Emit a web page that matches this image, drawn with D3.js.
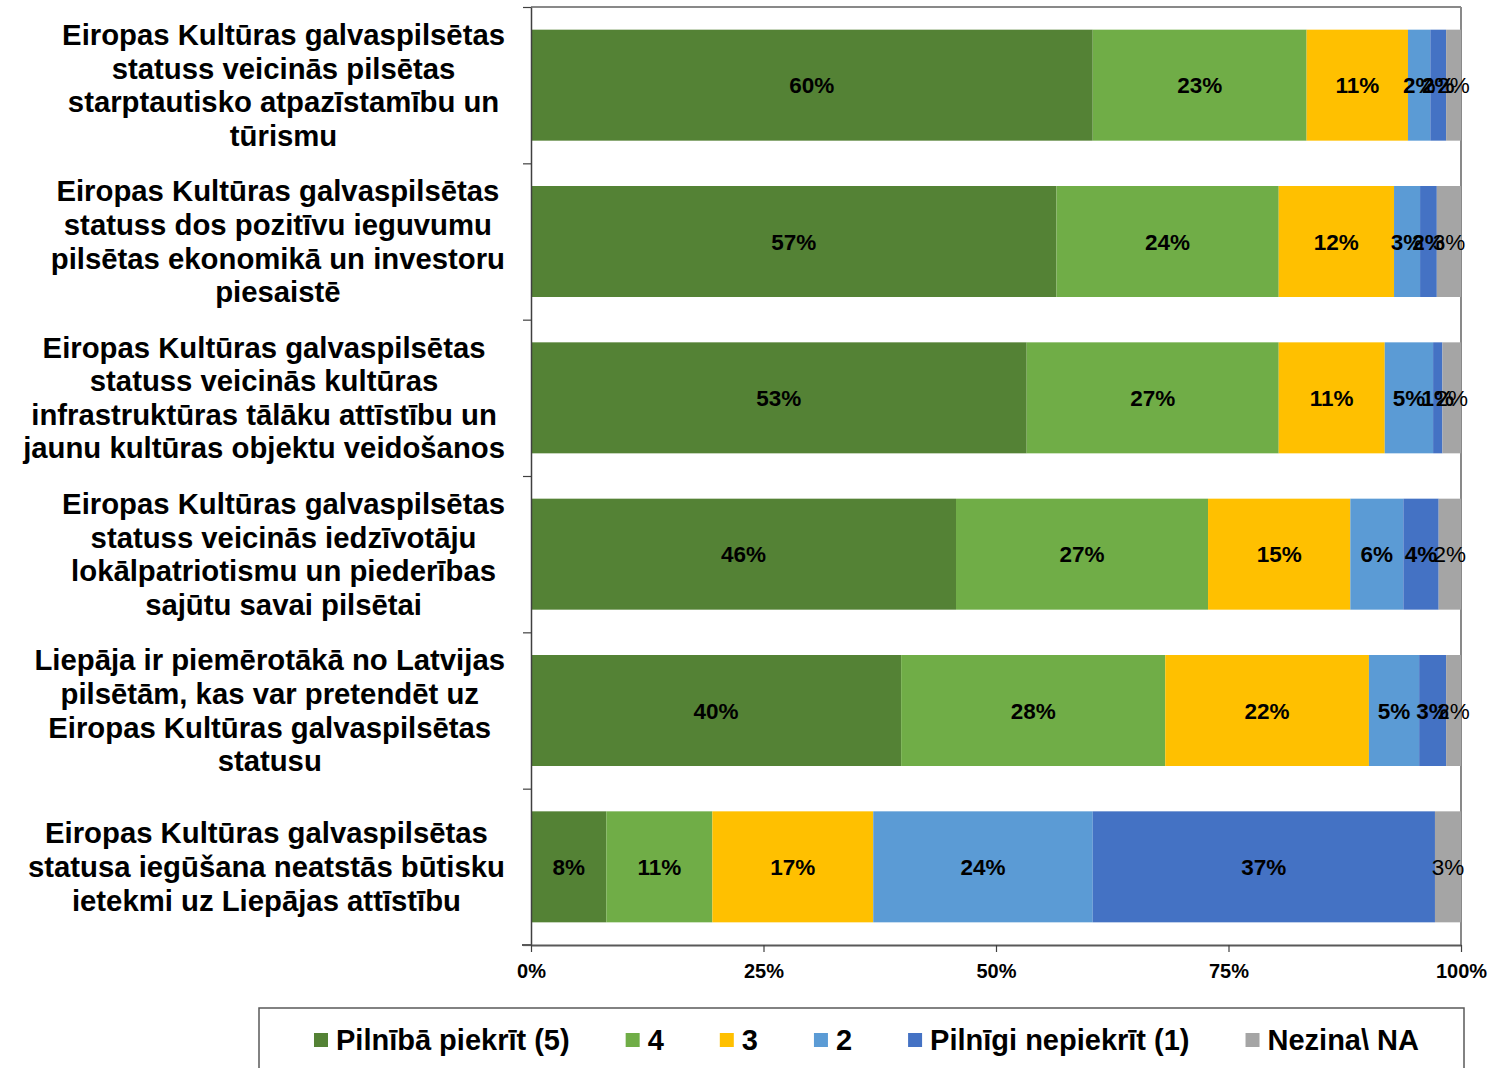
<!DOCTYPE html>
<html>
<head>
<meta charset="utf-8">
<script src="https://cdn.jsdelivr.net/npm/d3@7/dist/d3.min.js"></script>
<style>
  html, body { margin: 0; padding: 0; background: #fff; }
  svg { display: block; font-family: "Liberation Sans", Arial, sans-serif; }
</style>
</head>
<body>
<svg id="chart" width="1495" height="1068"></svg>
<script>
// ---- data ----
const categories = [
  ["Eiropas Kultūras galvaspilsētas", "statuss veicinās pilsētas", "starptautisko atpazīstamību un", "tūrismu"],
  ["Eiropas Kultūras galvaspilsētas", "statuss dos pozitīvu ieguvumu", "pilsētas ekonomikā un investoru", "piesaistē"],
  ["Eiropas Kultūras galvaspilsētas", "statuss veicinās kultūras", "infrastruktūras tālāku attīstību un", "jaunu kultūras objektu veidošanos"],
  ["Eiropas Kultūras galvaspilsētas", "statuss veicinās iedzīvotāju", "lokālpatriotismu un piederības", "sajūtu savai pilsētai"],
  ["Liepāja ir piemērotākā no Latvijas", "pilsētām, kas var pretendēt uz", "Eiropas Kultūras galvaspilsētas", "statusu"],
  ["Eiropas Kultūras galvaspilsētas", "statusa iegūšana neatstās būtisku", "ietekmi uz Liepājas attīstību"]
];
const seriesNames = ["Pilnībā piekrīt (5)", "4", "3", "2", "Pilnīgi nepiekrīt (1)", "Nezina\\ NA"];
const seriesColors = ["#548235", "#70AD47", "#FFC000", "#5B9BD5", "#4472C4", "#A5A5A5"];
const s5 = [60.4, 56.5, 53.3, 45.7, 39.8, 8.1];
const s4 = [23.0, 23.9, 27.1, 27.1, 28.4, 11.4];
const s3 = [10.9, 12.4, 11.4, 15.3, 21.9, 17.3];
const s2 = [2.4, 2.8, 5.2, 5.7, 5.4, 23.6];
const s1 = [1.7, 1.8, 1.0, 3.8, 2.9, 36.8];
const sNA = [1.6, 2.6, 2.0, 2.4, 1.6, 2.8];
const xTicks = [0, 25, 50, 75, 100];

(function () {
// ---- build ----
const seriesValues = [s5, s4, s3, s2, s1, sNA];
const keys = seriesNames.map((_, i) => "k" + i);
const rows = categories.map((c, ci) => {
  const r = { idx: ci };
  keys.forEach((k, si) => r[k] = seriesValues[si][ci]);
  return r;
});
const stacked = d3.stack().keys(keys)(rows);

const svg = d3.select("#chart");
const pLeft = 531, pRight = 1461, pTop = 7, pBottom = 945;

const x = d3.scaleLinear().domain([0, 100]).range([pLeft, pRight]);
const y = d3.scaleBand().domain(d3.range(categories.length)).range([pTop, pBottom])
  .paddingInner(0.29).paddingOuter(0.145);
const yb = d3.scaleLinear().domain([0, categories.length]).range([pTop, pBottom]);
const color = d3.scaleOrdinal().domain(keys).range(seriesColors);

// plot frame (top & right)
svg.append("line").attr("x1", pLeft).attr("x2", pRight).attr("y1", pTop).attr("y2", pTop)
  .attr("stroke", "#898989").attr("stroke-width", 2);
svg.append("line").attr("x1", pRight).attr("x2", pRight).attr("y1", pTop).attr("y2", pBottom)
  .attr("stroke", "#898989").attr("stroke-width", 2);

// bars
const g = svg.append("g");
stacked.forEach((layer) => {
  g.selectAll(null).data(layer).enter().append("rect")
    .attr("x", d => x(d[0]))
    .attr("y", (d, i) => y(i))
    .attr("width", d => x(d[1]) - x(d[0]))
    .attr("height", y.bandwidth())
    .attr("fill", color(layer.key));
});

// labels
stacked.forEach((layer, si) => {
  g.selectAll(null).data(layer).enter().append("text")
    .attr("x", d => (x(d[0]) + x(d[1])) / 2)
    .attr("y", (d, i) => y(i) + y.bandwidth() / 2)
    .attr("dy", "0.36em")
    .attr("text-anchor", "middle")
    .attr("font-size", 22.5)
    .attr("font-weight", si === 5 ? "normal" : "bold")
    .attr("fill", "#000")
    .text(d => Math.round(d[1] - d[0]) + "%");
});

// axes
const yAxis = svg.append("g").attr("transform", `translate(${pLeft},0)`)
  .call(d3.axisLeft(yb).tickValues(d3.range(categories.length + 1)).tickFormat("").tickSize(8).tickSizeOuter(0));
yAxis.select(".domain").attr("stroke", "#404040").attr("stroke-width", 1.5);
yAxis.selectAll(".tick line").attr("stroke", "#404040").attr("stroke-width", 1.2);

const xAxis = svg.append("g").attr("transform", `translate(0,${pBottom})`)
  .call(d3.axisBottom(x).tickValues(xTicks).tickFormat(d => d + "%").tickSize(7).tickSizeOuter(0).tickPadding(12));
xAxis.select(".domain").attr("stroke", "#595959").attr("stroke-width", 2);
xAxis.selectAll(".tick line").attr("stroke", "#404040").attr("stroke-width", 1.2);
xAxis.selectAll(".tick text").attr("font-size", 20).attr("font-weight", "bold")
  .attr("fill", "#000").attr("font-family", "'Liberation Sans', Arial, sans-serif");
svg.append("line").attr("x1", pLeft - 9).attr("x2", pLeft).attr("y1", pBottom).attr("y2", pBottom)
  .attr("stroke", "#595959").attr("stroke-width", 2);

// category labels
const lineH = 33.6;
const labelRight = 505;
categories.forEach((lines, ci) => {
  const t = svg.append("text")
    .attr("font-size", 29.3).attr("font-weight", "bold").attr("fill", "#000")
    .attr("text-anchor", "middle");
  const cy = y(ci) + y.bandwidth() / 2;
  const n = lines.length;
  const spans = lines.map((ln, li) => t.append("tspan")
    .attr("y", cy + (li - (n - 1) / 2) * lineH)
    .attr("dy", "0.35em")
    .text(ln));
  const maxW = d3.max(spans, s => s.node().getComputedTextLength());
  const cx = labelRight - maxW / 2;
  spans.forEach(s => s.attr("x", cx));
});

// legend
svg.append("rect").attr("x", 259).attr("y", 1008).attr("width", 1205).attr("height", 80)
  .attr("fill", "none").attr("stroke", "#595959").attr("stroke-width", 1.5);
const leg = svg.append("g");
const items = [];
seriesNames.forEach((name, i) => {
  const it = leg.append("g");
  it.append("rect").attr("x", 0).attr("y", -7).attr("width", 14).attr("height", 14)
    .attr("fill", seriesColors[i]);
  const tx = it.append("text").attr("x", 22).attr("y", 0).attr("dy", "0.35em")
    .attr("font-size", 29).attr("font-weight", "bold").attr("fill", "#000").text(name);
  const w = 22 + tx.node().getComputedTextLength();
  items.push({ it, w });
});
const gap = 56;
const total = d3.sum(items, d => d.w) + gap * (items.length - 1);
let lx = 866.5 - total / 2;
items.forEach(d => {
  d.it.attr("transform", `translate(${lx},1040)`);
  lx += d.w + gap;
});
})();
</script>
</body>
</html>
